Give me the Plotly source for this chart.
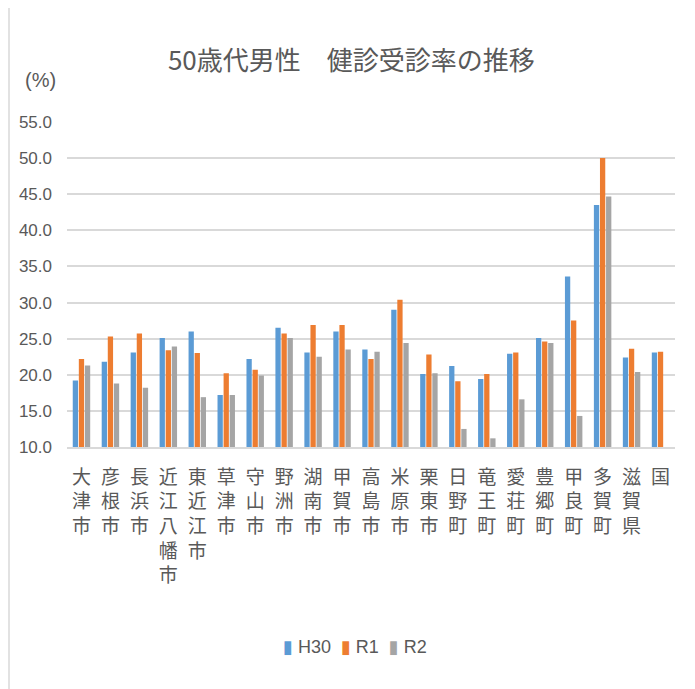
import plotly.graph_objects as go

categories = ["大津市", "彦根市", "長浜市", "近江八幡市", "東近江市", "草津市", "守山市",
              "野洲市", "湖南市", "甲賀市", "高島市", "米原市", "栗東市", "日野町",
              "竜王町", "愛荘町", "豊郷町", "甲良町", "多賀町", "滋賀県", "国"]
h30 = [19.2, 21.8, 23.1, 25.1, 26.0, 17.2, 22.2, 26.5, 23.1, 26.0, 23.5,
       29.0, 20.1, 21.2, 19.4, 22.9, 25.1, 33.6, 43.5, 22.4, 23.1]
r1 = [22.2, 25.3, 25.7, 23.4, 23.0, 20.2, 20.7, 25.7, 26.9, 26.9, 22.2,
      30.4, 22.8, 19.1, 20.1, 23.1, 24.6, 27.5, 50.0, 23.6, 23.2]
r2 = [21.3, 18.8, 18.2, 23.9, 16.9, 17.2, 19.9, 25.1, 22.5, 23.5, 23.2,
      24.4, 20.2, 12.5, 11.2, 16.6, 24.4, 14.3, 44.7, 20.4, None]
series_names = ["H30", "R1", "R2"]
colors = ["#5B9BD5", "#ED7D31", "#A5A5A5"]
yticks = [10, 15, 20, 25, 30, 35, 40, 45, 50, 55]

ticktext = ["<br>".join(list(c)) for c in categories]

fig = go.Figure()
for name, vals, col in zip(series_names, [h30, r1, r2], colors):
    fig.add_trace(go.Bar(x=categories, y=vals, name=name, marker_color=col,
                         marker_line_width=0, showlegend=False))

txt = "#595959"
fig.update_layout(
    width=695, height=689,
    margin=dict(l=59, r=28, t=114, b=250),
    paper_bgcolor="white", plot_bgcolor="white",
    barmode="group", bargap=0.37, bargroupgap=0.13,
    font=dict(family="Liberation Sans Narrow, Liberation Sans, Noto Sans CJK JP", color=txt),
    title=dict(text="50歳代男性　健診受診率の推移", x=0.494, xanchor="center",
               y=0.923, yanchor="middle",
               font=dict(size=26, color=txt, family="Noto Sans CJK JP")),
    showlegend=False,
)
fig.update_yaxes(range=[10, 55], tickvals=yticks, ticktext=[f"{v:.1f}" for v in yticks],
                 showgrid=True, gridcolor="#D9D9D9", gridwidth=1.5, zeroline=False,
                 showline=False, ticks="", ticklabelstandoff=14,
                 tickfont=dict(size=17, color=txt))
fig.update_xaxes(tickvals=categories, ticktext=ticktext, showline=True, linecolor="#D9D9D9",
                 linewidth=1.5, ticks="", tickangle=0, ticklabelstandoff=12,
                 tickfont=dict(size=19, color=txt, family="Noto Sans CJK JP"))

fig.add_annotation(text="(%)", xref="paper", yref="paper", x=-0.044, y=1.129,
                   xanchor="center", yanchor="middle", showarrow=False,
                   font=dict(size=20, color=txt, family="Liberation Sans Narrow, Liberation Sans"))

# compact legend built from series names and colours
legend_text = "&nbsp;&nbsp;".join(
    f"<span style='color:{c}; font-family:DejaVu Sans'>▮</span>&nbsp;{n}"
    for n, c in zip(series_names, colors))
fig.add_annotation(text=legend_text, xref="paper", yref="paper", x=0.4745, y=-0.615,
                   xanchor="center", yanchor="middle", showarrow=False,
                   font=dict(size=18, color=txt, family="Liberation Sans Narrow, Liberation Sans"))

fig.add_shape(type="rect", xref="paper", yref="paper", x0=-0.0954, x1=1.2, y0=-1.0, y1=1.357,
              line=dict(color="#D9D9D9", width=1.5), fillcolor="rgba(0,0,0,0)", layer="below")

fig.write_html("out.html")
